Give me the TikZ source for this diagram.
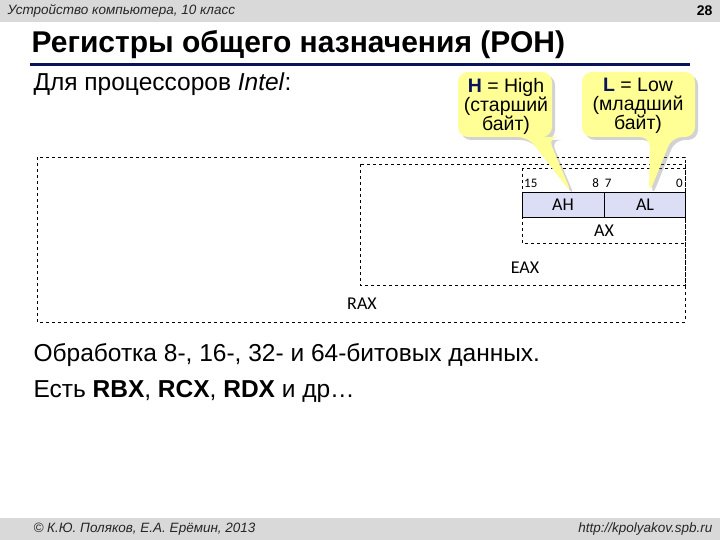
\documentclass[tikz,border=0pt]{standalone}
\usepackage{fontspec}
\setmainfont{Liberation Sans}
\newfontfamily\carlitofont{Carlito}
\usetikzlibrary{shadows}
\definecolor{bar}{RGB}{217,217,217}
\definecolor{navy}{RGB}{10,20,90}
\definecolor{callout}{RGB}{255,255,150}
\definecolor{regfill}{RGB}{220,222,245}
\tikzset{dbox/.style={draw,dashed,line width=0.8pt},
 lbl/.style={font=\carlitofont\fontsize{18}{18}\selectfont,inner sep=0pt},
 num/.style={font=\carlitofont\fontsize{13}{13}\selectfont,inner sep=0pt,anchor=base},
 body/.style={anchor=west,font=\fontsize{24.5}{24.5}\selectfont},
 foot/.style={font=\itshape\fontsize{13.5}{13.5}\selectfont,text=gray!30!black},
 call/.style={fill=callout,rounded corners=10pt,drop shadow={shadow xshift=3pt,shadow yshift=-3pt,opacity=0.35}},
 ctext/.style={align=center,font=\fontsize{19.5}{19}\selectfont}}
\begin{document}
\begin{tikzpicture}[x=1pt,y=-1pt]
\useasboundingbox (0,0) rectangle (720,540);
\fill[white] (0,0) rectangle (720,540);
\fill[bar] (0,0) rectangle (720,22);
\fill[bar] (0,518) rectangle (720,540);
\node[foot,anchor=west] (hd) at (4,11) {Устройство компьютера, 10 класс};
\node[anchor=east,font=\bfseries\fontsize{14}{14}\selectfont] (pg) at (716,11) {28};
\node[anchor=west,font=\bfseries\fontsize{30}{30}\selectfont] (title) at (28,45) {Регистры общего назначения (РОН)};
\draw[navy,line width=3pt] (30,65) -- (690,65);
\node[body] (intro) at (30,84) {Для процессоров \textit{Intel}:};
% registers
\draw[dbox] (37,157) rectangle (685,322);
\draw[dbox] (360,164) rectangle (685,285);
\draw[dbox] (522,168) rectangle (685,243);
\draw[fill=regfill] (522,192) rectangle (604,217);
\draw[fill=regfill] (604,192) rectangle (685,217);
\node[lbl] (ah) at (563,205) {AH};
\node[lbl] (al) at (645,205) {AL};
\node[lbl] (ax) at (604,231) {AX};
\node[lbl] (eax) at (525,268) {EAX};
\node[lbl] (rax) at (362,304) {RAX};
\node[num,anchor=base west] (n15) at (524,188) {15};
\node[num] (n87) at (602,188) {8\ \ 7};
\node[num,anchor=base east] (n0) at (683,188) {0};
% callouts
\coordinate (hp) at (572,194);
\coordinate (lp) at (649,194);
\path[call] (458,72) -- (552,72) -- (552,137) -- (548,137) -- (hp) -- (528,137) -- (458,137) -- cycle;
\path[call] (582,72) -- (695,72) -- (695,137) -- (672,137) -- (lp) -- (650,137) -- (582,137) -- cycle;
\node[ctext] (hc) at (506,106) {\textcolor{navy}{\bfseries H} = High\\(старший\\байт)};
\node[ctext] (lc) at (638,106) {\textcolor{navy}{\bfseries L} = Low\\(младший\\байт)};
\node[body] (t1) at (30,355) {Обработка 8-, 16-, 32- и 64-битовых данных.};
\node[body] (t2) at (30,391) {Есть \textbf{RBX}, \textbf{RCX}, \textbf{RDX} и др…};
\node[foot,anchor=west] (ft) at (30,529) {© К.Ю. Поляков, Е.А. Ерёмин, 2013};
\node[foot,anchor=east] (url) at (716,529) {http://kpolyakov.spb.ru};
\end{tikzpicture}
\end{document}
